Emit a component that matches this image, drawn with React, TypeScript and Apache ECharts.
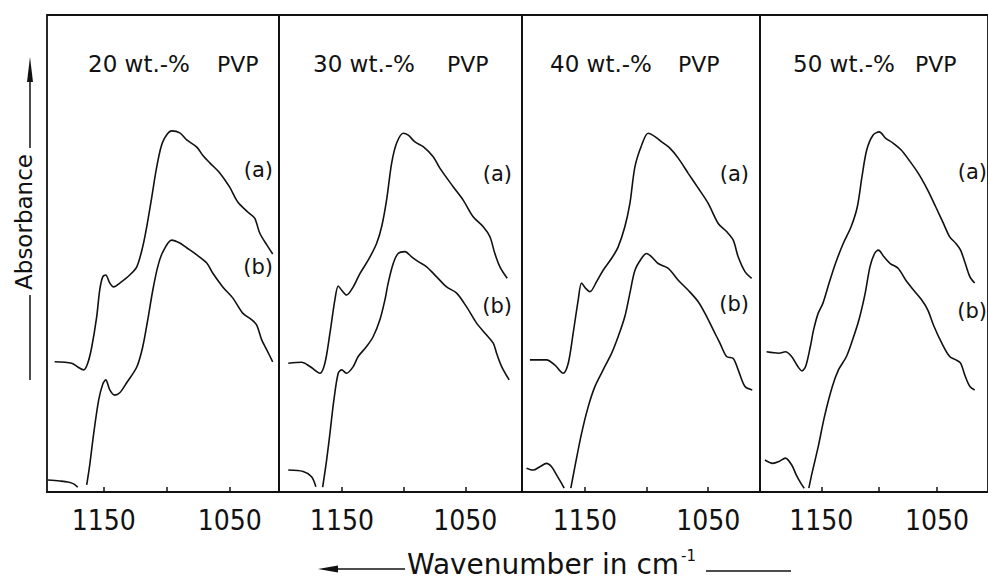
import React, { useEffect, useRef } from "react";
import * as echarts from "echarts";

// ---------- data ----------
const panelTitles = ["20 wt.-%", "30 wt.-%", "40 wt.-%", "50 wt.-%"];
const polymerName = "PVP";
const curveNames = ["(a)", "(b)"];
const tickValues = [1150, 1100, 1050];
const labelValues = [1150, 1050];
const xTitle = "Wavenumber in cm";
const xTitleSup = "-1";
const yTitle = "Absorbance";

// wavenumber ranges per panel (x axis is reversed)
const axisMax = [1195, 1201, 1201, 1203];
const axisMin = [1011, 1004, 1008, 1006];

// 20 wt.-% PVP
const wn20a = [1188.9, 1175.4, 1170.6, 1165.9, 1162.7, 1159.5, 1155.6, 1153.2, 1150.8, 1148.4, 1145.2, 1142.1, 1137.3, 1129.4, 1123.8, 1119.1, 1115.9, 1111.9, 1108.0, 1103.2, 1096.1, 1089.7, 1084.2, 1076.2, 1071.5, 1065.9, 1058.0, 1050.1, 1043.7, 1035.8, 1030.3, 1026.3, 1020.7, 1016.0];
const abs20a = [27.3, 27.0, 26.2, 25.6, 27.0, 30.4, 36.7, 42.3, 45.1, 45.5, 43.8, 43.0, 43.8, 45.5, 47.2, 51.4, 55.6, 61.8, 68.1, 73.4, 75.7, 75.3, 73.8, 72.3, 70.6, 69.0, 66.9, 63.9, 60.8, 58.7, 57.4, 54.3, 51.8, 49.9];
const wn20b = [1194.4, 1184.9, 1178.5, 1173.8, 1170.6, 1167, 1163.5, 1161.1, 1157.9, 1154.0, 1150.8, 1148.4, 1145.2, 1141.3, 1137.3, 1131.8, 1123.8, 1119.1, 1115.1, 1111.1, 1107.2, 1103.2, 1096.1, 1089.7, 1084.2, 1076.2, 1068.3, 1063.6, 1055.6, 1047.7, 1039.8, 1032.6, 1028.7, 1024.7, 1020.7, 1016.0];
const abs20b = [2.5, 2.3, 2.1, 1.7, 1.0, null, 1.5, 5.7, 12.4, 19.3, 22.6, 23.5, 21.4, 20.3, 20.8, 22.9, 26.2, 30.4, 36.1, 42.3, 47.2, 50.3, 52.8, 52.2, 51.2, 49.7, 48.0, 45.9, 43.0, 40.7, 37.5, 36.1, 35.0, 31.9, 29.8, 27.3];

// 30 wt.-% PVP
const wn30a = [1193.5, 1182.7, 1175.9, 1167.8, 1163.8, 1159.7, 1155.7, 1153.0, 1150.2, 1146.2, 1140.8, 1135.4, 1128.7, 1121.9, 1117.8, 1113.8, 1109.7, 1105.7, 1100.3, 1096.2, 1090.8, 1084.1, 1076.0, 1070.6, 1059.8, 1051.7, 1043.6, 1035.4, 1030.0, 1026.0, 1021.9, 1016.0];
const abs30a = [27.0, 27.2, 26.3, 24.9, 27.0, 33.3, 40.3, 43.2, 42.3, 41.3, 43.0, 45.8, 48.6, 52.1, 55.6, 61.2, 68.9, 73.1, 75.2, 74.8, 73.4, 72.4, 70.3, 67.9, 64.0, 61.2, 57.7, 55.6, 53.5, 50.0, 47.2, 44.8];
const wn30b = [1193.5, 1181.4, 1174.6, 1171.1, 1168, 1165.6, 1162.4, 1159.7, 1156.5, 1153.0, 1150.2, 1146.2, 1140.8, 1136.8, 1130.0, 1124.6, 1119.2, 1115.1, 1112.5, 1108.4, 1104.4, 1098.9, 1093.5, 1088.1, 1081.3, 1073.2, 1065.1, 1057.0, 1048.9, 1040.8, 1032.7, 1027.3, 1024.6, 1020.5, 1014.4];
const abs30b = [4.6, 4.3, 3.2, 1.1, null, 1.0, 6.7, 12.3, 19.3, 24.9, 25.6, 24.9, 26.3, 28.4, 30.5, 32.6, 36.1, 40.3, 43.8, 47.9, 50.0, 50.4, 49.3, 48.3, 47.2, 45.1, 43.0, 41.7, 38.8, 35.4, 32.9, 31.2, 29.1, 26.3, 23.5];

// 40 wt.-% PVP
const wn40a = [1194.6, 1181.1, 1174.3, 1167.6, 1163.5, 1159.5, 1155.4, 1152.7, 1149.4, 1145.9, 1140.5, 1135.2, 1128.3, 1123.0, 1117.6, 1113.5, 1109.4, 1104.0, 1098.7, 1093.2, 1087.8, 1081.1, 1074.3, 1066.2, 1058.1, 1050.0, 1041.9, 1035.1, 1029.7, 1025.7, 1020.2, 1014.8];
const abs40a = [27.7, 27.7, 26.6, 24.9, 27.0, 33.3, 40.3, 43.8, 42.7, 42.0, 44.1, 46.5, 49.0, 51.4, 55.6, 60.5, 68.2, 72.7, 75.2, 74.5, 73.4, 72.1, 70.0, 66.8, 63.7, 60.5, 56.3, 54.6, 52.8, 49.3, 46.2, 44.8];
const wn40b = [1197.3, 1191.9, 1186.5, 1181.1, 1177.0, 1173.0, 1168.9, 1166.8, 1164, 1161.4, 1158.1, 1152.7, 1147.3, 1141.9, 1135.2, 1128.3, 1123.0, 1117.6, 1113.5, 1109.4, 1104.0, 1100.0, 1095.9, 1090.6, 1082.4, 1074.3, 1066.2, 1058.1, 1052.7, 1045.9, 1040.5, 1035.1, 1029.7, 1025.7, 1020.2, 1014.3];
const abs40b = [5.0, 4.6, 5.3, 6.0, 5.3, 3.6, 1.8, 0.8, null, 0.8, 5.3, 12.3, 17.9, 22.1, 25.6, 29.1, 32.6, 36.8, 41.7, 46.5, 49.0, 50.0, 49.3, 47.9, 46.9, 44.4, 42.3, 39.9, 37.5, 34.0, 31.2, 28.4, 28.0, 25.6, 22.1, 21.4];

// 50 wt.-% PVP
const wn50a = [1197.3, 1186.5, 1181.1, 1175.7, 1170.3, 1166.8, 1163.6, 1159.5, 1156.7, 1152.7, 1148.6, 1143.3, 1137.8, 1131.1, 1124.3, 1118.9, 1114.9, 1110.8, 1105.4, 1099.9, 1094.6, 1087.8, 1081.0, 1074.3, 1066.2, 1058.1, 1051.2, 1044.5, 1039.1, 1033.7, 1029.7, 1025.6, 1021.6, 1017.5];
const abs50a = [29.4, 29.1, 29.4, 28.4, 26.3, 25.4, 26.3, 30.5, 34.0, 37.5, 39.6, 43.8, 47.9, 52.1, 55.6, 59.8, 66.1, 71.7, 74.8, 75.5, 74.2, 73.1, 71.7, 69.6, 66.8, 63.3, 59.8, 56.3, 53.5, 52.1, 50.7, 47.9, 45.1, 43.8];
const wn50b = [1198.7, 1192.0, 1186.5, 1181.1, 1175.7, 1171.7, 1167.6, 1164.8, 1163, 1160.8, 1158.1, 1152.7, 1147.3, 1140.5, 1135.2, 1128.3, 1123.0, 1117.5, 1112.1, 1108.0, 1104.0, 1100.7, 1095.9, 1090.5, 1083.7, 1077.0, 1070.2, 1063.4, 1058.1, 1052.6, 1045.9, 1039.1, 1033.7, 1029.7, 1025.6, 1021.6, 1017.5];
const abs50b = [6.7, 6.0, 6.4, 7.1, 5.7, 3.6, 1.8, 0.8, null, 0.8, 3.9, 9.5, 15.8, 22.1, 25.6, 28.4, 31.9, 36.1, 41.7, 47.2, 50.0, 50.7, 49.3, 47.9, 46.9, 44.4, 42.3, 40.3, 38.2, 34.7, 31.2, 28.4, 27.7, 27.0, 24.2, 22.1, 21.4];

const curves: { panel: number; name: string; wn: number[]; ab: (number | null)[] }[] = [
  { panel: 0, name: curveNames[0], wn: wn20a, ab: abs20a },
  { panel: 0, name: curveNames[1], wn: wn20b, ab: abs20b },
  { panel: 1, name: curveNames[0], wn: wn30a, ab: abs30a },
  { panel: 1, name: curveNames[1], wn: wn30b, ab: abs30b },
  { panel: 2, name: curveNames[0], wn: wn40a, ab: abs40a },
  { panel: 2, name: curveNames[1], wn: wn40b, ab: abs40b },
  { panel: 3, name: curveNames[0], wn: wn50a, ab: abs50a },
  { panel: 3, name: curveNames[1], wn: wn50b, ab: abs50b },
];

// ---------- layout / style ----------
const ink = "#111111";
const gridLeft = [47, 279, 522, 760];
const gridWidth = [232, 243, 238, 243];
const gridTop = 15;
const gridHeight = 477;
const titleX = [88, 313, 550, 793];
const pvpX = [217, 447, 678, 915];
const labelRightX = [273, 512, 749, 987];
const labelAY = [170, 174, 174, 172];
const labelBY = [267, 306, 304, 311];
const sansFont = "'DejaVu Sans', sans-serif";
const tickFont = "'Liberation Sans Narrow', 'DejaVu Sans Condensed', sans-serif";

function buildOption() {
  const grid = panelTitles.map((_, i) => ({
    left: gridLeft[i],
    top: gridTop,
    width: gridWidth[i],
    height: gridHeight,
    show: true,
    borderColor: ink,
    borderWidth: 1.8,
    backgroundColor: "transparent",
  }));

  const xAxis = panelTitles.map((_, i) => ({
    type: "value",
    gridIndex: i,
    inverse: true,
    min: axisMin[i],
    max: axisMax[i],
    axisLine: { show: true, onZero: false, lineStyle: { color: ink, width: 2 } },
    axisTick: {
      show: true,
      inside: true,
      length: 5,
      customValues: tickValues,
      lineStyle: { color: ink, width: 1.5 },
    },
    axisLabel: {
      show: true,
      customValues: labelValues,
      formatter: (v: number) => String(v),
      color: ink,
      fontFamily: tickFont,
      fontSize: 28,
      margin: 14,
    },
    splitLine: { show: false },
  }));

  const yAxis = panelTitles.map((_, i) => ({
    type: "value",
    gridIndex: i,
    min: 0,
    max: 100,
    show: false,
  }));

  const series = curves.map((c) => ({
    type: "line",
    name: panelTitles[c.panel] + " " + c.name,
    xAxisIndex: c.panel,
    yAxisIndex: c.panel,
    data: c.wn.map((w, k) => [w, c.ab[k] === null ? "-" : c.ab[k]]),
    showSymbol: false,
    symbol: "none",
    smooth: 0.3,
    connectNulls: false,
    clip: true,
    silent: true,
    lineStyle: { color: ink, width: 1.6 },
  }));

  const graphic: any[] = [];
  panelTitles.forEach((t, i) => {
    graphic.push({
      type: "text",
      x: titleX[i],
      y: 64,
      style: { text: t, fontSize: 23, fontFamily: sansFont, fill: ink, align: "left", verticalAlign: "middle" },
    });
    graphic.push({
      type: "text",
      x: pvpX[i],
      y: 64,
      style: { text: polymerName, fontSize: 22, fontFamily: sansFont, fill: ink, align: "left", verticalAlign: "middle" },
    });
    graphic.push({
      type: "text",
      x: labelRightX[i],
      y: labelAY[i],
      style: { text: curveNames[0], fontSize: 21, fontFamily: sansFont, fill: ink, align: "right", verticalAlign: "middle" },
    });
    graphic.push({
      type: "text",
      x: labelRightX[i],
      y: labelBY[i],
      style: { text: curveNames[1], fontSize: 21, fontFamily: sansFont, fill: ink, align: "right", verticalAlign: "middle" },
    });
  });

  // y-axis title with arrow
  graphic.push({
    type: "text",
    x: 24,
    y: 222,
    rotation: Math.PI / 2,
    style: { text: yTitle, fontSize: 23, fontFamily: sansFont, fill: ink, align: "center", verticalAlign: "middle" },
  });
  graphic.push({ type: "line", shape: { x1: 30, y1: 80, x2: 30, y2: 148 }, style: { stroke: ink, lineWidth: 1.5 } });
  graphic.push({ type: "polygon", shape: { points: [[30, 57], [27, 82], [33, 82]] }, style: { fill: ink } });
  graphic.push({ type: "line", shape: { x1: 30, y1: 295, x2: 30, y2: 380 }, style: { stroke: ink, lineWidth: 1.5 } });

  // x-axis title with arrow
  graphic.push({ type: "polygon", shape: { points: [[318, 569], [338, 565.5], [338, 572.5]] }, style: { fill: ink } });
  graphic.push({ type: "line", shape: { x1: 334, y1: 569, x2: 405, y2: 569 }, style: { stroke: ink, lineWidth: 1.5 } });
  graphic.push({
    type: "text",
    x: 407,
    y: 564,
    style: { text: xTitle, fontSize: 28, fontFamily: sansFont, fill: ink, align: "left", verticalAlign: "middle" },
  });
  graphic.push({
    type: "text",
    x: 681,
    y: 548,
    style: { text: xTitleSup, fontSize: 15, fontFamily: sansFont, fill: ink, align: "left", verticalAlign: "top" },
  });
  graphic.push({ type: "line", shape: { x1: 706, y1: 571, x2: 791, y2: 571 }, style: { stroke: ink, lineWidth: 1.5 } });

  return {
    animation: false,
    backgroundColor: "#ffffff",
    grid,
    xAxis,
    yAxis,
    series,
    graphic,
  };
}

export default function App() {
  const ref = useRef<HTMLDivElement>(null);
  useEffect(() => {
    if (!ref.current) return;
    const chart = echarts.init(ref.current, null, { renderer: "svg" });
    chart.setOption(buildOption() as any);
    return () => chart.dispose();
  }, []);
  return (
    <div
      ref={ref}
      style={{ position: "fixed", left: 0, top: 0, width: 988, height: 579, overflow: "hidden", background: "#fff" }}
    />
  );
}
